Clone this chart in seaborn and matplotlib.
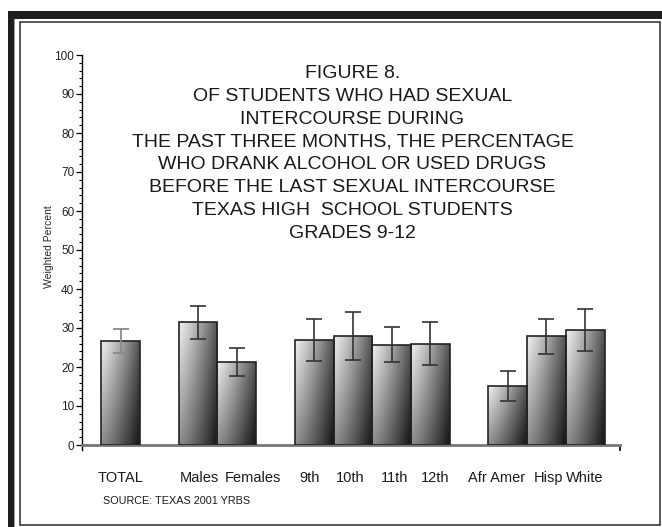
import numpy as np
import matplotlib
matplotlib.use("Agg")
import matplotlib.pyplot as plt
import seaborn as sns
from matplotlib.patches import Rectangle

# values (weighted percent and 95% CI)
groups = ["TOTAL", "Males", "Females", "9th", "10th", "11th", "12th", "Afr Amer", "Hisp", "White"]
pct = [26.6, 31.5, 21.4, 26.8, 27.9, 25.6, 26.0, 15.1, 27.9, 29.6]
ci_lo = [23.7, 27.3, 17.7, 21.5, 21.9, 21.2, 20.4, 11.3, 23.4, 24.2]
ci_hi = [29.7, 35.7, 25.0, 32.2, 34.1, 30.3, 31.5, 19.0, 32.2, 34.8]

# layout: bar slots (gaps between groups) and where the labels sit
bar_pos = [1, 3, 4, 6, 7, 8, 9, 11, 12, 13]
label_pos = [1.0, 3.02, 4.41, 5.88, 6.94, 8.08, 9.13, 10.72, 12.05, 13.0]

title = ("FIGURE 8.\nOF STUDENTS WHO HAD SEXUAL\nINTERCOURSE DURING\n"
         "THE PAST THREE MONTHS, THE PERCENTAGE\nWHO DRANK ALCOHOL OR USED DRUGS\n"
         "BEFORE THE LAST SEXUAL INTERCOURSE\nTEXAS HIGH  SCHOOL STUDENTS\nGRADES 9-12")

sns.set_style("white")
plt.rcParams["font.family"] = ["Liberation Sans", "DejaVu Sans"]

W, H = 662, 527
fig = plt.figure(figsize=(W / 100, H / 100), dpi=100)
ax = fig.add_axes([82 / W, 1 - 445 / H, (620 - 82) / W, (445 - 55) / H])

sns.barplot(x=bar_pos, y=pct, native_scale=True, width=1.0, errorbar=None,
            ax=ax, edgecolor="#222222", linewidth=1.2)

# diagonal grey gradient inside each bar
u = np.linspace(0, 1, 64)
v = np.linspace(1, 0, 128)[:, None]
uu = u[None, :] ** 1.2
grad = (0.93 * (1 - uu) + 0.33 * uu) * v + (0.55 * (1 - uu) + 0.08 * uu) * (1 - v)
for p in ax.patches:
    x0, w, h = p.get_x(), p.get_width(), p.get_height()
    p.set_facecolor("none")
    p.set_zorder(3)
    im = ax.imshow(grad, extent=[x0, x0 + w, 0, h], cmap="gray", vmin=0, vmax=1,
                   aspect="auto", zorder=2, interpolation="bilinear")
    im.set_clip_path(p)

pct_a = np.array(pct)
lo = pct_a - np.array(ci_lo)
hi = np.array(ci_hi) - pct_a
ax.errorbar(bar_pos[:1], pct_a[:1], yerr=[lo[:1], hi[:1]], fmt="none",
            ecolor="#8a8a8a", elinewidth=1.3, capsize=5.5, capthick=1.3, zorder=4)
ax.errorbar(bar_pos[1:], pct_a[1:], yerr=[lo[1:], hi[1:]], fmt="none",
            ecolor="#333333", elinewidth=1.2, capsize=5.5, capthick=1.2, zorder=4)

ax.set_xlim(0, 13.9)
ax.set_ylim(0, 100)
ax.set_aspect("auto")
ax.set_yticks(np.arange(0, 101, 10))
ax.set_yticks(np.arange(0, 101, 2), minor=True)
ax.set_xticks(label_pos, groups)
ax.set_xticks([13.9], minor=True)
ax.tick_params(axis="y", which="major", length=4.5, width=0.9, color="black",
               labelsize=8.5, pad=1, direction="out", left=True, labelcolor="#222222")
ax.tick_params(axis="y", which="minor", length=2.5, width=0.8, color="black",
               direction="out", left=True)
ax.tick_params(axis="x", which="major", length=0, labelsize=10.5, pad=19,
               labelcolor="#1a1a1a")
ax.tick_params(axis="x", which="minor", length=4, width=1.2, color="black",
               direction="out", bottom=True)
ax.set_xlabel("")
ax.set_ylabel("")

for s in ["top", "right"]:
    ax.spines[s].set_visible(False)
ax.spines["left"].set_color("black")
ax.spines["left"].set_linewidth(1.0)
ax.spines["left"].set_bounds(-1.4, 100)
ax.spines["bottom"].set_color("#777777")
ax.spines["bottom"].set_linewidth(2)
ax.patch.set_alpha(0)

fig.text(49.3 / W, 1 - 246.7 / H, "Weighted Percent", rotation=90,
         ha="center", va="center", fontsize=7.5)
fig.text(352.5 / W, 1 - 153.5 / H, title, ha="center", va="center",
         fontsize=14, linespacing=1.46, color="#1a1a1a")
fig.text(102.7 / W, 1 - 500.7 / H, "SOURCE: TEXAS 2001 YRBS", ha="left",
         va="center", fontsize=7.8, color="#1a1a1a")

# page frame: heavy black edge on top/left plus thin inner border
fig.patches.append(Rectangle((8 / W, 0), 6 / W, 1 - 11 / H, transform=fig.transFigure,
                             facecolor="#1e1e1e", edgecolor="none"))
fig.patches.append(Rectangle((8 / W, 1 - 19 / H), 1 - 8 / W, 8 / H, transform=fig.transFigure,
                             facecolor="#1e1e1e", edgecolor="none"))
fig.patches.append(Rectangle((14 / W, 0), 1.5 / W, 1 - 19 / H, transform=fig.transFigure,
                             facecolor="#9a9a9a", edgecolor="none"))
fig.patches.append(Rectangle((19.5 / W, 1 - 524.5 / H), 640 / W, 502.5 / H,
                             transform=fig.transFigure, facecolor="none",
                             edgecolor="#2a2a2a", linewidth=1.1))

fig.savefig("out.png", dpi=100)
